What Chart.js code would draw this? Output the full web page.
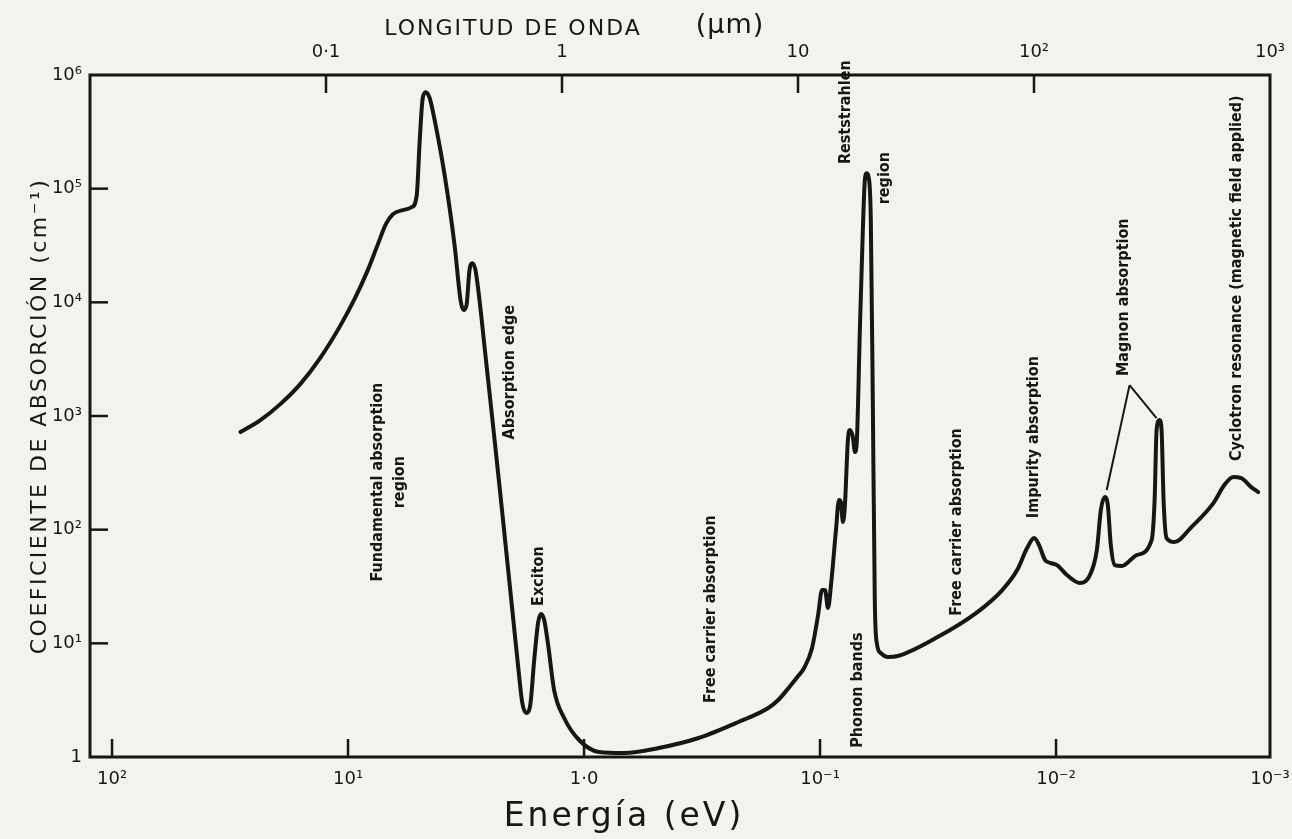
<!DOCTYPE html>
<html>
<head>
<meta charset="utf-8">
<script src="https://cdn.jsdelivr.net/npm/chart.js@4.4.0/dist/chart.umd.min.js"></script>
<style>
html,body{margin:0;padding:0;background:#f4f2ec;}
#wrap{width:1292px;height:839px;position:relative;}
</style>
</head>
<body>
<div id="wrap"><canvas id="c" width="1292" height="839"></canvas></div>
<script>
// ---- Data ----
const energy_eV = [
  28.56, 23.51, 19.36, 15.94, 13.13, 10.81, 9.343, 8.316, 7.471, 6.914,
  6.457, 5.861, 5.370, 5.115, 4.968, 4.825, 4.687, 4.508, 4.295, 3.896,
  3.536, 3.336, 3.240, 3.147, 3.057, 2.969, 2.884, 2.773, 2.617, 2.469,
  2.284, 2.113, 1.993, 1.899, 1.826, 1.757, 1.690, 1.626, 1.564, 1.518,
  1.475, 1.419, 1.339, 1.214, 1.050, 0.8643, 0.6781, 0.4825, 0.3271, 0.2218,
  0.1657, 0.1504, 0.1338, 0.1238, 0.1168, 0.1081, 0.1019, 0.09808, 0.09526, 0.09252,
  0.08986, 0.08560, 0.08314, 0.08155, 0.07998, 0.07844, 0.07619, 0.07472, 0.07258, 0.07117,
  0.06981, 0.06780, 0.06586, 0.06458, 0.06334, 0.06212, 0.06093, 0.05976, 0.05861, 0.05748,
  0.05529, 0.05164, 0.04687, 0.03177, 0.02154, 0.01690, 0.01461, 0.01326, 0.01238, 0.01180,
  0.01113, 0.01050, 0.009904, 0.008987, 0.007919, 0.007186, 0.006714, 0.006458, 0.006212, 0.006034,
  0.005860, 0.005638, 0.005267, 0.004551, 0.003935, 0.003822, 0.003749, 0.003641, 0.003571, 0.003502,
  0.003401, 0.003147, 0.002668, 0.002154, 0.001936, 0.001774, 0.001641, 0.001489, 0.001391
];
const absorption_cm = [
  722, 920, 1272, 1908, 3230, 6176, 10890, 18430, 32510, 48730,
  59660, 64700, 68770, 87650, 267100, 625200, 705900, 625200, 400400, 131400,
  31850, 10460, 8541, 9450, 19200, 22120, 19200, 10460, 3432, 1127,
  246.8, 51.88, 16.03, 6.065, 2.985, 2.438, 2.867, 7.131, 15.39, 18.10,
  16.03, 9.661, 3.884, 2.203, 1.411, 1.107, 1.084, 1.200, 1.469, 2.031,
  2.698, 3.172, 4.212, 5.157, 6.065, 9.093, 17.74, 29.43, 29.43, 20.44,
  32.57, 99.2, 182.1, 174.8, 116.6, 164.6, 613.8, 751.6, 652.3, 481.5,
  613.8, 5693, 43150, 118800, 136900, 123700, 52850, 1380, 24.03, 10.06,
  8.215, 7.578, 7.733, 11.36, 18.85, 29.43, 44.12, 68.89, 84.36, 73.19,
  54.03, 50.84, 48.83, 39.87, 33.91, 39.87, 66.15, 148.7, 193.5, 164.6,
  73.19, 48.83, 47.86, 59.79, 81.01, 182.1, 751.6, 920.2, 751.6, 182.1,
  84.36, 77.8, 105.4, 171.3, 246.8, 290.1, 284.3, 236.9, 214.1
];

const energyTickValues = [100, 10, 1, 0.1, 0.01];
const energyTickLabels = ['10²', '10¹', '1·0', '10⁻¹', '10⁻²'];
const energyEdgeLabel = '10⁻³';
const wavelengthTickValues = [0.1, 1, 10, 100, 1000];
const wavelengthTickLabels = ['0·1', '1', '10', '10²', '10³'];
const absorptionTickValues = [1, 10, 100, 1000, 10000, 100000, 1000000];
const absorptionTickLabels = ['1', '10¹', '10²', '10³', '10⁴', '10⁵', '10⁶'];

const annotationTexts = ['Fundamental absorption', 'region', 'Absorption edge', 'Exciton',
  'Free carrier absorption', 'Phonon bands', 'Reststrahlen', 'region',
  'Free carrier absorption', 'Impurity absorption', 'Magnon absorption',
  'Cyclotron resonance (magnetic field applied)'];
const annotationEnergy = [7.47, 6.04, 2.07, 1.55, 0.291, 0.0692, 0.0776, 0.053, 0.0262, 0.01239, 0.00516, 0.00172];
const annotationAbsorption = [262, 262, 2430, 39, 20.0, 3.88, 471000, 123700, 117, 652, 11100, 16300];

const magnonPointerFrom = [0.00488, 1870];
const magnonPointerTo = [[0.00610, 223], [0.00375, 959]];

// ---- Constants ----
const HC = 1.2398; // eV·µm
const LAMBDA_MIN = 0.01, LAMBDA_MAX = 1000;
const E_MAX = HC / LAMBDA_MIN, E_MIN = HC / LAMBDA_MAX;
const INK = '#161616';
const PAPER = '#f4f2ec';
const HAND = '"DejaVu Sans", "Liberation Sans", sans-serif';
const NOTE = '"DejaVu Sans Condensed", "Liberation Sans Narrow", "DejaVu Sans", sans-serif';

const paperPlugin = {
  id: 'paper',
  beforeDraw(chart) {
    const ctx = chart.ctx;
    ctx.save();
    ctx.fillStyle = PAPER;
    ctx.fillRect(0, 0, chart.width, chart.height);
    ctx.restore();
  },
  afterDraw(chart) {
    const ctx = chart.ctx;
    const a = chart.chartArea;
    const sx = chart.scales.x, sx2 = chart.scales.x2, sy = chart.scales.y;
    ctx.save();
    // frame
    ctx.strokeStyle = INK;
    ctx.lineWidth = 3;
    ctx.strokeRect(a.left, a.top, a.right - a.left, a.bottom - a.top);
    // inward tick marks
    ctx.lineWidth = 2.5;
    const TL = 18;
    energyTickValues.forEach(v => {
      const px = sx.getPixelForValue(v);
      ctx.beginPath(); ctx.moveTo(px, a.bottom); ctx.lineTo(px, a.bottom - TL); ctx.stroke();
    });
    wavelengthTickValues.forEach(v => {
      if (v >= LAMBDA_MAX) return;
      const px = sx2.getPixelForValue(v);
      ctx.beginPath(); ctx.moveTo(px, a.top); ctx.lineTo(px, a.top + TL); ctx.stroke();
    });
    absorptionTickValues.forEach(v => {
      if (v <= 1 || v >= 1e6) return;
      const py = sy.getPixelForValue(v);
      ctx.beginPath(); ctx.moveTo(a.left, py); ctx.lineTo(a.left + TL, py); ctx.stroke();
    });

    // annotations (rotated text)
    ctx.fillStyle = INK;
    ctx.font = 'bold 16px ' + NOTE;
    ctx.textAlign = 'center';
    ctx.textBaseline = 'middle';
    annotationTexts.forEach((t, i) => {
      const px = sx.getPixelForValue(annotationEnergy[i]);
      const py = sy.getPixelForValue(annotationAbsorption[i]);
      ctx.save();
      ctx.translate(px, py);
      ctx.rotate(-Math.PI / 2);
      ctx.fillText(t, 0, 0);
      ctx.restore();
    });
    // magnon pointer lines
    ctx.lineWidth = 2;
    const fx = sx.getPixelForValue(magnonPointerFrom[0]);
    const fy = sy.getPixelForValue(magnonPointerFrom[1]);
    magnonPointerTo.forEach(p => {
      ctx.beginPath();
      ctx.moveTo(fx, fy);
      ctx.lineTo(sx.getPixelForValue(p[0]), sy.getPixelForValue(p[1]));
      ctx.stroke();
    });

    // axis titles
    ctx.textBaseline = 'middle';
    ctx.textAlign = 'center';
    ctx.font = '22px ' + HAND;
    ctx.letterSpacing = '2px';
    ctx.fillText('LONGITUD DE ONDA', 513, 29);
    ctx.font = '27px ' + HAND;
    ctx.letterSpacing = '1px';
    ctx.fillText('(µm)', 730, 26);
    ctx.font = '33px ' + HAND;
    ctx.letterSpacing = '3px';
    ctx.fillText('Energía (eV)', 624, 817);
    ctx.save();
    ctx.translate(40, 416);
    ctx.rotate(-Math.PI / 2);
    ctx.font = '22px ' + HAND;
    ctx.letterSpacing = '2.5px';
    ctx.fillText('COEFICIENTE DE ABSORCIÓN (cm⁻¹)', 0, 0);
    ctx.restore();
    ctx.restore();
  }
};

const tickFont = { family: HAND, size: 18 };
const zeroSidePadding = s => { s.paddingLeft = 0; s.paddingRight = 0; };

new Chart(document.getElementById('c'), {
  type: 'line',
  data: {
    datasets: [{
      data: energy_eV.map((e, i) => ({ x: e, y: absorption_cm[i] })),
      borderColor: INK,
      borderWidth: 4,
      pointRadius: 0,
      fill: false,
      cubicInterpolationMode: 'monotone',
      borderJoinStyle: 'round',
      borderCapStyle: 'round',
      xAxisID: 'x',
      yAxisID: 'y'
    }]
  },
  options: {
    responsive: false,
    animation: false,
    devicePixelRatio: 1,
    layout: { padding: { left: 0, right: 22, top: 0, bottom: 0 } },
    plugins: { legend: { display: false }, tooltip: { enabled: false }, title: { display: false } },
    scales: {
      x: {
        type: 'logarithmic', position: 'bottom', reverse: true,
        min: E_MIN, max: E_MAX,
        grid: { display: false, drawTicks: false },
        border: { display: false },
        afterBuildTicks: s => { s.ticks = energyTickValues.map(v => ({ value: v })).concat([{ value: s.min }]); },
        afterFit: s => { s.height = 82; zeroSidePadding(s); },
        ticks: {
          autoSkip: false, maxRotation: 0, minRotation: 0, padding: 12,
          color: INK, font: tickFont,
          callback: (v, i) => (i < energyTickLabels.length ? energyTickLabels[i] : energyEdgeLabel)
        }
      },
      x2: {
        type: 'logarithmic', position: 'top',
        min: LAMBDA_MIN, max: LAMBDA_MAX,
        grid: { display: false, drawTicks: false },
        border: { display: false },
        afterBuildTicks: s => { s.ticks = wavelengthTickValues.map(v => ({ value: v })); },
        afterFit: s => { s.height = 75; zeroSidePadding(s); },
        ticks: {
          autoSkip: false, maxRotation: 0, minRotation: 0, padding: 12,
          color: INK, font: tickFont,
          callback: (v, i) => wavelengthTickLabels[i]
        }
      },
      y: {
        type: 'logarithmic', position: 'left',
        min: 1, max: 1e6,
        grid: { display: false, drawTicks: false },
        border: { display: false },
        afterBuildTicks: s => { s.ticks = absorptionTickValues.map(v => ({ value: v })); },
        afterFit: s => { s.width = 90; s.paddingTop = 0; s.paddingBottom = 0; },
        ticks: {
          autoSkip: false, padding: 8,
          color: INK, font: tickFont,
          callback: (v, i) => absorptionTickLabels[i]
        }
      }
    }
  },
  plugins: [paperPlugin]
});
</script>
</body>
</html>
